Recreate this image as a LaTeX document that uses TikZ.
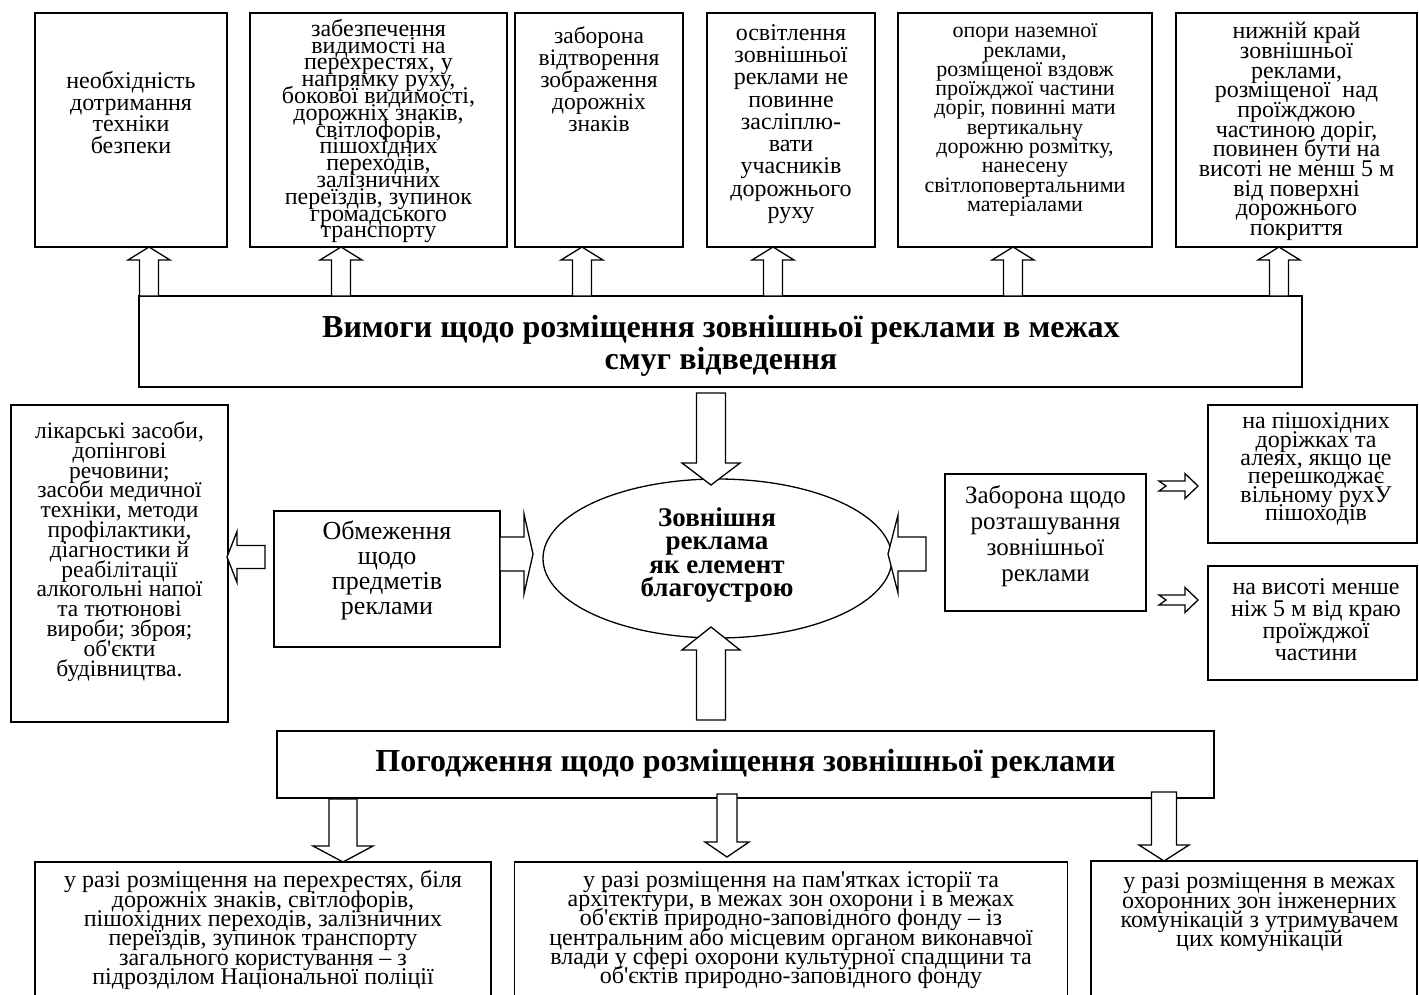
\documentclass[tikz,border=0pt]{standalone}
\usepackage{fontspec}
\setmainfont{Liberation Serif}[Ligatures=TeXOff]
\usetikzlibrary{shapes.geometric}
\tikzset{
  box/.style={draw,line width=1.4pt,inner sep=0pt,fill=none},
  txt/.style={align=center,inner sep=0pt,execute at begin node={\lineskiplimit=-100pt\lineskip=0pt}},
  blk/.style={draw,line width=1.3pt,fill=white,line join=miter},
}
\newcommand\bvarrow[6]{% cx, tip y, base y, tail y, half shaft, half head
  \draw[blk] (#1-#5,#4) -- (#1-#5,#3) -- (#1-#6,#3) -- (#1,#2) -- (#1+#6,#3) -- (#1+#5,#3) -- (#1+#5,#4) -- cycle;}
\newcommand\bharrow[6]{% cy, tip x, base x, tail x, half shaft, half head
  \draw[blk] (#4,#1-#5) -- (#3,#1-#5) -- (#3,#1-#6) -- (#2,#1) -- (#3,#1+#6) -- (#3,#1+#5) -- (#4,#1+#5) -- cycle;}
\newcommand\bnotch[7]{% cy, tip x, base x, tail x, half shaft, half head, notch x
  \draw[blk] (#4,#1-#5) -- (#3,#1-#5) -- (#3,#1-#6) -- (#2,#1) -- (#3,#1+#6) -- (#3,#1+#5) -- (#4,#1+#5) -- (#7,#1) -- cycle;}
\newcommand\boxat[5]{% name, x1, y1, x2, y2
  \node[box,minimum width=#4-#2,minimum height=#5-#3] (#1) at ({(#2+#4)/2},{(#3+#5)/2}) {};}
\begin{document}
\begin{tikzpicture}[x=1pt,y=-1pt]
\clip (0,0) rectangle (1419,994);
\fill[white] (0,0) rectangle (1419,994);
% top boxes
\boxat{t1}{35}{13}{227}{247}
\boxat{t2}{250}{13}{507}{247}
\boxat{t3}{515}{13}{683}{247}
\boxat{t4}{707}{13}{875}{247}
\boxat{t5}{898}{13}{1152}{247}
\boxat{t6}{1176}{13}{1417}{247}
\node[txt,font=\fontsize{24}{21.7}\selectfont] (t1t) at (131,112.5) {необхідність\\дотримання\\техніки\\безпеки};
\node[txt,font=\fontsize{24}{16.8}\selectfont] (t2t) at (378.5,131) {забезпечення\\видимості на\\перехрестях, у\\напрямку руху,\\бокової видимості,\\дорожніх знаків,\\світлофорів,\\пішохідних\\переходів,\\залізничних\\переїздів, зупинок\\громадського\\транспорту};
\node[txt,font=\fontsize{23.5}{22}\selectfont] (t3t) at (599,79) {заборона\\відтворення\\зображення\\дорожніх\\знаків};
\node[txt,font=\fontsize{24}{22.3}\selectfont] (t4t) at (791,124) {освітлення\\зовнішньої\\реклами не\\повинне\\засліплю-\\вати\\учасників\\дорожнього\\руху};
\node[txt,font=\fontsize{22}{19.3}\selectfont] (t5t) at (1025,120) {опори наземної\\реклами,\\розміщеної вздовж\\проїжджої частини\\доріг, повинні мати\\вертикальну\\дорожню розмітку,\\нанесену\\світлоповертальними\\матеріалами};
\node[txt,font=\fontsize{24}{19.7}\selectfont] (t6t) at (1296.5,131.5) {нижній край\\зовнішньої\\реклами,\\розміщеної\ \ над\\проїжджою\\частиною доріг,\\повинен бути на\\висоті не менш 5 м\\від поверхні\\дорожнього\\покриття};
% wide box
\boxat{req}{139}{296}{1302}{387}
\node[txt,font=\bfseries\fontsize{32}{32}\selectfont] (reqt) at (721,346) {Вимоги щодо розміщення зовнішньої реклами в межах\\смуг відведення};
% top arrows
\bvarrow{149}{247}{260}{296}{9.5}{21}
\bvarrow{341}{247}{260}{296}{9.5}{21}
\bvarrow{582}{247}{260}{296}{9.5}{21}
\bvarrow{773}{247}{260}{296}{9.5}{21}
\bvarrow{1013}{247}{260}{296}{9.5}{21}
\bvarrow{1279}{247}{260}{296}{9.5}{21}
% ellipse
\node[ellipse,draw,line width=1.3pt,minimum width=349pt,minimum height=159pt,inner sep=0pt] (ell) at (717.5,558.5) {};
\node[txt,font=\bfseries\fontsize{27}{23.5}\selectfont] (ellt) at (717,555) {Зовнішня\\реклама\\як елемент\\благоустрою};
% left side
\boxat{lft}{11}{405}{228}{722}
\node[txt,font=\fontsize{23.5}{19.8}\selectfont] (lftt) at (119.5,551.5) {лікарські засоби,\\допінгові\\речовини;\\засоби медичної\\техніки, методи\\профілактики,\\діагностики й\\реабілітації\\алкогольні напої\\та тютюнові\\вироби; зброя;\\об'єкти\\будівництва.};
\boxat{obm}{274}{511}{500}{647}
\node[txt,font=\fontsize{26}{25}\selectfont] (obmt) at (387,570.5) {Обмеження\\щодо\\предметів\\реклами};
% right side
\boxat{zab}{945}{474}{1146}{611}
\node[txt,font=\fontsize{25}{26}\selectfont] (zabt) at (1045.5,536) {Заборона щодо\\розташування\\зовнішньої\\реклами};
\boxat{r1}{1208}{405}{1417}{543}
\node[txt,font=\fontsize{24}{18.4}\selectfont] (r1t) at (1316,469) {на пішохідних\\доріжках та\\алеях, якщо це\\перешкоджає\\вільному рухУ\\пішоходів};
\boxat{r2}{1208}{566}{1417}{680}
\node[txt,font=\fontsize{24}{22}\selectfont] (r2t) at (1316,620) {на висоті менше\\ніж 5 м від краю\\проїжджої\\частини};
% bottom
\boxat{agr}{277}{731}{1214}{798}
\node[txt,font=\bfseries\fontsize{32}{32}\selectfont] (agrt) at (745.5,764) {Погодження щодо розміщення зовнішньої реклами};
\boxat{b1}{35}{862}{491}{1010}
\boxat{b2}{514.5}{862}{1067.5}{1010}
\boxat{b3}{1091}{861}{1417}{1010}
\node[txt,font=\fontsize{24}{19.3}\selectfont] (b1t) at (263,930) {у разі розміщення на перехрестях, біля\\дорожніх знаків, світлофорів,\\пішохідних переходів, залізничних\\переїздів, зупинок транспорту\\загального користування – з\\підрозділом Національної поліції};
\node[txt,font=\fontsize{24}{19.3}\selectfont] (b2t) at (791,930) {у разі розміщення на пам'ятках історії та\\архітектури, в межах зон охорони і в межах\\об'єктів природно-заповідного фонду – із\\центральним або місцевим органом виконавчої\\влади у сфері охорони культурної спадщини та\\об'єктів природно-заповідного фонду};
\node[txt,font=\fontsize{24}{19.3}\selectfont] (b3t) at (1259.5,912.5) {у разі розміщення в межах\\охоронних зон інженерних\\комунікацій з утримувачем\\цих комунікацій};
% center arrows
\bvarrow{711}{485}{463}{393}{14.5}{29}
\bvarrow{711}{627}{650}{720}{14.5}{29}
\bharrow{557}{227}{237}{265}{11.5}{25.5}
\bharrow{554}{533}{524}{500}{17}{40}
\bharrow{554}{888}{898}{926}{17}{39}
\bnotch{486}{1198}{1185}{1159}{5}{12.5}{1166}
\bnotch{600}{1198}{1185}{1159}{5}{12.5}{1166}
% bottom arrows
\bvarrow{343}{862}{846}{799}{14}{30}
\bvarrow{727}{857}{842}{794}{10}{22}
\bvarrow{1164}{861}{845}{792}{12.5}{25}
\end{tikzpicture}
\end{document}
